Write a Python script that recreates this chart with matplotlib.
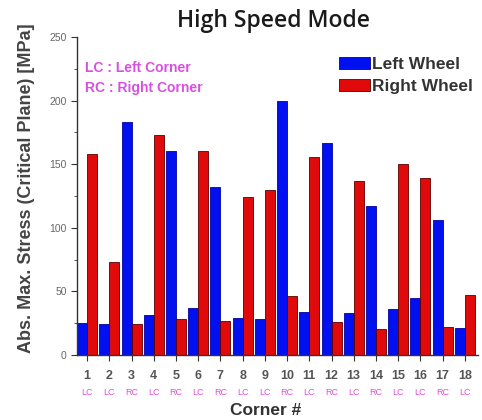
import matplotlib
matplotlib.use("Agg")
import matplotlib.pyplot as plt
import numpy as np
from matplotlib.ticker import MultipleLocator
from matplotlib.transforms import blended_transform_factory

corners = list(range(1, 19))
corner_side = ["LC", "LC", "RC", "LC", "RC", "LC", "RC", "LC", "LC",
               "RC", "LC", "RC", "LC", "RC", "LC", "LC", "RC", "LC"]
left_wheel = [25, 24, 183, 31, 160, 37, 132, 29, 28,
              200, 34, 167, 33, 117, 36, 45, 106, 21]
right_wheel = [158, 73, 24, 173, 28, 160, 27, 124, 130,
               46, 156, 26, 137, 20, 150, 139, 22, 47]

plt.rcParams["font.family"] = ["Liberation Sans", "DejaVu Sans"]

fig = plt.figure(figsize=(4.82, 4.2), dpi=100)
ax = fig.add_axes([0.160, 0.155, 0.832, 0.757])

x = np.array(corners, dtype=float)
w = 0.45
ax.bar(x - w / 2, left_wheel, width=w, color="#0010F0", edgecolor="#0000A0",
       linewidth=0.6, label="Left Wheel")
ax.bar(x + w / 2, right_wheel, width=w, color="#E00A0A", edgecolor="#5a0000",
       linewidth=0.6, label="Right Wheel")

ax.set_xlim(0.55, 18.6)
ax.set_ylim(0, 250)
ax.spines["top"].set_visible(False)
ax.spines["right"].set_visible(False)
for s in ("left", "bottom"):
    ax.spines[s].set_color("#333333")
    ax.spines[s].set_linewidth(1.0)

ax.yaxis.set_major_locator(MultipleLocator(50))
ax.yaxis.set_minor_locator(MultipleLocator(25))
ax.set_xticks(corners)
ax.set_xticklabels([str(c) for c in corners])
ax.tick_params(axis="y", which="major", direction="out", length=4,
               labelsize=7.5, labelcolor="#666666", color="#333333")
ax.tick_params(axis="y", which="minor", direction="out", length=2.5, color="#333333")
ax.tick_params(axis="x", which="major", direction="out", length=4,
               labelsize=9, labelcolor="#555555", color="#333333", pad=7)
for lbl in ax.get_xticklabels():
    lbl.set_fontweight("bold")

trans = blended_transform_factory(ax.transData, ax.transAxes)
for c, side in zip(corners, corner_side):
    ax.text(c, -0.105, side, transform=trans, ha="center", va="top",
            fontsize=6.5, color="#e050d8")

ax.set_title("High Speed Mode", fontsize=16.5, fontweight="semibold",
             family=["Open Sans", "DejaVu Sans"], color="#1a1a1a",
             x=0.489, pad=7)
ax.set_ylabel("Abs. Max. Stress (Critical Plane) [MPa]", fontsize=13,
              fontweight="bold", color="#444444")
ax.yaxis.set_label_coords(-0.105, 0.525)
ax.set_xlabel("Corner #", fontsize=12.5, fontweight="bold", color="#333333")
ax.xaxis.set_label_coords(0.471, -0.150)

ax.text(0.02, 0.903, "LC : Left Corner", transform=ax.transAxes,
        fontsize=10, fontweight="bold", color="#d850e0", ha="left", va="center")
ax.text(0.02, 0.840, "RC : Right Corner", transform=ax.transAxes,
        fontsize=10, fontweight="bold", color="#d850e0", ha="left", va="center")

leg = ax.legend(loc="upper right", bbox_to_anchor=(0.988, 0.937), frameon=False,
                fontsize=12.5, handlelength=1.8, handleheight=0.7,
                handletextpad=0.15, labelspacing=0.4, borderaxespad=0.0,
                borderpad=0.0)
for t in leg.get_texts():
    t.set_fontweight("bold")
    t.set_color("#333333")

fig.savefig("out.png", dpi=100)
